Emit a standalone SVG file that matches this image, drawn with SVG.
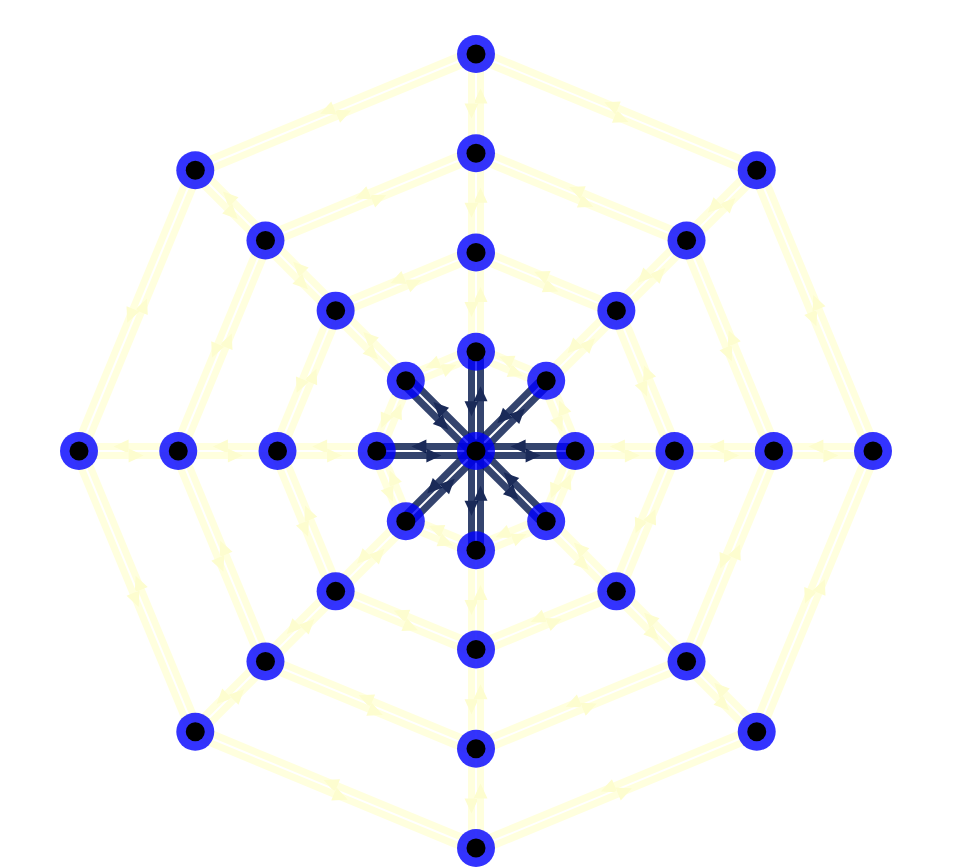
<svg xmlns="http://www.w3.org/2000/svg" width="958" height="868" viewBox="0 0 958 868">
<style>
.dk{fill:none;stroke:rgb(1,21,74);stroke-opacity:.8;stroke-width:7;marker-mid:url(#ad)}
.yl{fill:none;stroke:#ffffde;stroke-width:7;marker-mid:url(#ay)}
.o{fill:#0000ff;fill-opacity:.8}
.i{fill:#000}
</style>
<defs>
<marker id="ad" markerUnits="userSpaceOnUse" markerWidth="20" markerHeight="20" refX="0" refY="7" orient="auto" overflow="visible"><path d="M0,0L15,7L0,14z" fill="#1a2a58"/></marker>
<marker id="ay" markerUnits="userSpaceOnUse" markerWidth="20" markerHeight="20" refX="0" refY="7" orient="auto" overflow="visible"><path d="M0,0L15,7L0,14z" fill="#fdfdcf"/></marker>
</defs>
<rect width="958" height="868" fill="#fff"/>
<g id="connectors">
<!-- ring 1 octagon -->
<g transform="translate(476,351.75) rotate(22.5)"><path class="yl" d="M0,4.5H37.98H75.96"/><path class="yl" d="M75.96,-4.5H37.98H0"/></g>
<g transform="translate(546.18,380.82) rotate(67.5)"><path class="yl" d="M0,4.5H37.98H75.96"/><path class="yl" d="M75.96,-4.5H37.98H0"/></g>
<g transform="translate(575.25,451) rotate(112.5)"><path class="yl" d="M0,4.5H37.98H75.96"/><path class="yl" d="M75.96,-4.5H37.98H0"/></g>
<g transform="translate(546.18,521.18) rotate(157.5)"><path class="yl" d="M0,4.5H37.98H75.96"/><path class="yl" d="M75.96,-4.5H37.98H0"/></g>
<g transform="translate(476,550.25) rotate(202.5)"><path class="yl" d="M0,4.5H37.98H75.96"/><path class="yl" d="M75.96,-4.5H37.98H0"/></g>
<g transform="translate(405.82,521.18) rotate(247.5)"><path class="yl" d="M0,4.5H37.98H75.96"/><path class="yl" d="M75.96,-4.5H37.98H0"/></g>
<g transform="translate(376.75,451) rotate(292.5)"><path class="yl" d="M0,4.5H37.98H75.96"/><path class="yl" d="M75.96,-4.5H37.98H0"/></g>
<g transform="translate(405.82,380.82) rotate(337.5)"><path class="yl" d="M0,4.5H37.98H75.96"/><path class="yl" d="M75.96,-4.5H37.98H0"/></g>
<!-- ring 2 octagon -->
<g transform="translate(476,252.5) rotate(22.5)"><path class="yl" d="M0,4.5H75.96H151.93"/><path class="yl" d="M151.93,-4.5H75.96H0"/></g>
<g transform="translate(616.36,310.64) rotate(67.5)"><path class="yl" d="M0,4.5H75.96H151.93"/><path class="yl" d="M151.93,-4.5H75.96H0"/></g>
<g transform="translate(674.5,451) rotate(112.5)"><path class="yl" d="M0,4.5H75.96H151.93"/><path class="yl" d="M151.93,-4.5H75.96H0"/></g>
<g transform="translate(616.36,591.36) rotate(157.5)"><path class="yl" d="M0,4.5H75.96H151.93"/><path class="yl" d="M151.93,-4.5H75.96H0"/></g>
<g transform="translate(476,649.5) rotate(202.5)"><path class="yl" d="M0,4.5H75.96H151.93"/><path class="yl" d="M151.93,-4.5H75.96H0"/></g>
<g transform="translate(335.64,591.36) rotate(247.5)"><path class="yl" d="M0,4.5H75.96H151.93"/><path class="yl" d="M151.93,-4.5H75.96H0"/></g>
<g transform="translate(277.5,451) rotate(292.5)"><path class="yl" d="M0,4.5H75.96H151.93"/><path class="yl" d="M151.93,-4.5H75.96H0"/></g>
<g transform="translate(335.64,310.64) rotate(337.5)"><path class="yl" d="M0,4.5H75.96H151.93"/><path class="yl" d="M151.93,-4.5H75.96H0"/></g>
<!-- ring 3 octagon -->
<g transform="translate(476,153.25) rotate(22.5)"><path class="yl" d="M0,4.5H113.95H227.89"/><path class="yl" d="M227.89,-4.5H113.95H0"/></g>
<g transform="translate(686.54,240.46) rotate(67.5)"><path class="yl" d="M0,4.5H113.95H227.89"/><path class="yl" d="M227.89,-4.5H113.95H0"/></g>
<g transform="translate(773.75,451) rotate(112.5)"><path class="yl" d="M0,4.5H113.95H227.89"/><path class="yl" d="M227.89,-4.5H113.95H0"/></g>
<g transform="translate(686.54,661.54) rotate(157.5)"><path class="yl" d="M0,4.5H113.95H227.89"/><path class="yl" d="M227.89,-4.5H113.95H0"/></g>
<g transform="translate(476,748.75) rotate(202.5)"><path class="yl" d="M0,4.5H113.95H227.89"/><path class="yl" d="M227.89,-4.5H113.95H0"/></g>
<g transform="translate(265.46,661.54) rotate(247.5)"><path class="yl" d="M0,4.5H113.95H227.89"/><path class="yl" d="M227.89,-4.5H113.95H0"/></g>
<g transform="translate(178.25,451) rotate(292.5)"><path class="yl" d="M0,4.5H113.95H227.89"/><path class="yl" d="M227.89,-4.5H113.95H0"/></g>
<g transform="translate(265.46,240.46) rotate(337.5)"><path class="yl" d="M0,4.5H113.95H227.89"/><path class="yl" d="M227.89,-4.5H113.95H0"/></g>
<!-- ring 4 octagon -->
<g transform="translate(476,54) rotate(22.5)"><path class="yl" d="M0,4.5H151.93H303.85"/><path class="yl" d="M303.85,-4.5H151.93H0"/></g>
<g transform="translate(756.72,170.28) rotate(67.5)"><path class="yl" d="M0,4.5H151.93H303.85"/><path class="yl" d="M303.85,-4.5H151.93H0"/></g>
<g transform="translate(873,451) rotate(112.5)"><path class="yl" d="M0,4.5H151.93H303.85"/><path class="yl" d="M303.85,-4.5H151.93H0"/></g>
<g transform="translate(756.72,731.72) rotate(157.5)"><path class="yl" d="M0,4.5H151.93H303.85"/><path class="yl" d="M303.85,-4.5H151.93H0"/></g>
<g transform="translate(476,848) rotate(202.5)"><path class="yl" d="M0,4.5H151.93H303.85"/><path class="yl" d="M303.85,-4.5H151.93H0"/></g>
<g transform="translate(195.28,731.72) rotate(247.5)"><path class="yl" d="M0,4.5H151.93H303.85"/><path class="yl" d="M303.85,-4.5H151.93H0"/></g>
<g transform="translate(79,451) rotate(292.5)"><path class="yl" d="M0,4.5H151.93H303.85"/><path class="yl" d="M303.85,-4.5H151.93H0"/></g>
<g transform="translate(195.28,170.28) rotate(337.5)"><path class="yl" d="M0,4.5H151.93H303.85"/><path class="yl" d="M303.85,-4.5H151.93H0"/></g>
<!-- radial ring1-ring2 -->
<g transform="translate(476,351.75) rotate(-90)"><path class="yl" d="M0,4.5H49.63H99.25"/><path class="yl" d="M99.25,-4.5H49.63H0"/></g>
<g transform="translate(546.18,380.82) rotate(-45)"><path class="yl" d="M0,4.5H49.63H99.25"/><path class="yl" d="M99.25,-4.5H49.63H0"/></g>
<g transform="translate(575.25,451) rotate(0)"><path class="yl" d="M0,4.5H49.63H99.25"/><path class="yl" d="M99.25,-4.5H49.63H0"/></g>
<g transform="translate(546.18,521.18) rotate(45)"><path class="yl" d="M0,4.5H49.63H99.25"/><path class="yl" d="M99.25,-4.5H49.63H0"/></g>
<g transform="translate(476,550.25) rotate(90)"><path class="yl" d="M0,4.5H49.63H99.25"/><path class="yl" d="M99.25,-4.5H49.63H0"/></g>
<g transform="translate(405.82,521.18) rotate(135)"><path class="yl" d="M0,4.5H49.63H99.25"/><path class="yl" d="M99.25,-4.5H49.63H0"/></g>
<g transform="translate(376.75,451) rotate(180)"><path class="yl" d="M0,4.5H49.63H99.25"/><path class="yl" d="M99.25,-4.5H49.63H0"/></g>
<g transform="translate(405.82,380.82) rotate(225)"><path class="yl" d="M0,4.5H49.63H99.25"/><path class="yl" d="M99.25,-4.5H49.63H0"/></g>
<!-- radial ring2-ring3 -->
<g transform="translate(476,252.5) rotate(-90)"><path class="yl" d="M0,4.5H49.63H99.25"/><path class="yl" d="M99.25,-4.5H49.63H0"/></g>
<g transform="translate(616.36,310.64) rotate(-45)"><path class="yl" d="M0,4.5H49.63H99.25"/><path class="yl" d="M99.25,-4.5H49.63H0"/></g>
<g transform="translate(674.5,451) rotate(0)"><path class="yl" d="M0,4.5H49.63H99.25"/><path class="yl" d="M99.25,-4.5H49.63H0"/></g>
<g transform="translate(616.36,591.36) rotate(45)"><path class="yl" d="M0,4.5H49.63H99.25"/><path class="yl" d="M99.25,-4.5H49.63H0"/></g>
<g transform="translate(476,649.5) rotate(90)"><path class="yl" d="M0,4.5H49.63H99.25"/><path class="yl" d="M99.25,-4.5H49.63H0"/></g>
<g transform="translate(335.64,591.36) rotate(135)"><path class="yl" d="M0,4.5H49.63H99.25"/><path class="yl" d="M99.25,-4.5H49.63H0"/></g>
<g transform="translate(277.5,451) rotate(180)"><path class="yl" d="M0,4.5H49.63H99.25"/><path class="yl" d="M99.25,-4.5H49.63H0"/></g>
<g transform="translate(335.64,310.64) rotate(225)"><path class="yl" d="M0,4.5H49.63H99.25"/><path class="yl" d="M99.25,-4.5H49.63H0"/></g>
<!-- radial ring3-ring4 -->
<g transform="translate(476,153.25) rotate(-90)"><path class="yl" d="M0,4.5H49.63H99.25"/><path class="yl" d="M99.25,-4.5H49.63H0"/></g>
<g transform="translate(686.54,240.46) rotate(-45)"><path class="yl" d="M0,4.5H49.63H99.25"/><path class="yl" d="M99.25,-4.5H49.63H0"/></g>
<g transform="translate(773.75,451) rotate(0)"><path class="yl" d="M0,4.5H49.63H99.25"/><path class="yl" d="M99.25,-4.5H49.63H0"/></g>
<g transform="translate(686.54,661.54) rotate(45)"><path class="yl" d="M0,4.5H49.63H99.25"/><path class="yl" d="M99.25,-4.5H49.63H0"/></g>
<g transform="translate(476,748.75) rotate(90)"><path class="yl" d="M0,4.5H49.63H99.25"/><path class="yl" d="M99.25,-4.5H49.63H0"/></g>
<g transform="translate(265.46,661.54) rotate(135)"><path class="yl" d="M0,4.5H49.63H99.25"/><path class="yl" d="M99.25,-4.5H49.63H0"/></g>
<g transform="translate(178.25,451) rotate(180)"><path class="yl" d="M0,4.5H49.63H99.25"/><path class="yl" d="M99.25,-4.5H49.63H0"/></g>
<g transform="translate(265.46,240.46) rotate(225)"><path class="yl" d="M0,4.5H49.63H99.25"/><path class="yl" d="M99.25,-4.5H49.63H0"/></g>
<!-- center spokes -->
<g transform="translate(476,451) rotate(-90)"><path class="dk" d="M0,4.5H49.63H99.25"/><path class="dk" d="M99.25,-4.5H49.63H0"/></g>
<g transform="translate(476,451) rotate(-45)"><path class="dk" d="M0,4.5H49.63H99.25"/><path class="dk" d="M99.25,-4.5H49.63H0"/></g>
<g transform="translate(476,451) rotate(0)"><path class="dk" d="M0,4.5H49.63H99.25"/><path class="dk" d="M99.25,-4.5H49.63H0"/></g>
<g transform="translate(476,451) rotate(45)"><path class="dk" d="M0,4.5H49.63H99.25"/><path class="dk" d="M99.25,-4.5H49.63H0"/></g>
<g transform="translate(476,451) rotate(90)"><path class="dk" d="M0,4.5H49.63H99.25"/><path class="dk" d="M99.25,-4.5H49.63H0"/></g>
<g transform="translate(476,451) rotate(135)"><path class="dk" d="M0,4.5H49.63H99.25"/><path class="dk" d="M99.25,-4.5H49.63H0"/></g>
<g transform="translate(476,451) rotate(180)"><path class="dk" d="M0,4.5H49.63H99.25"/><path class="dk" d="M99.25,-4.5H49.63H0"/></g>
<g transform="translate(476,451) rotate(225)"><path class="dk" d="M0,4.5H49.63H99.25"/><path class="dk" d="M99.25,-4.5H49.63H0"/></g>
</g>
<g id="nodes">
<g id="n0"><circle class="o" cx="476" cy="451" r="19"/><circle class="i" cx="476" cy="451" r="9.5"/></g>
<g id="n1_0"><circle class="o" cx="476" cy="351.75" r="19"/><circle class="i" cx="476" cy="351.75" r="9.5"/></g>
<g id="n1_1"><circle class="o" cx="546.18" cy="380.82" r="19"/><circle class="i" cx="546.18" cy="380.82" r="9.5"/></g>
<g id="n1_2"><circle class="o" cx="575.25" cy="451" r="19"/><circle class="i" cx="575.25" cy="451" r="9.5"/></g>
<g id="n1_3"><circle class="o" cx="546.18" cy="521.18" r="19"/><circle class="i" cx="546.18" cy="521.18" r="9.5"/></g>
<g id="n1_4"><circle class="o" cx="476" cy="550.25" r="19"/><circle class="i" cx="476" cy="550.25" r="9.5"/></g>
<g id="n1_5"><circle class="o" cx="405.82" cy="521.18" r="19"/><circle class="i" cx="405.82" cy="521.18" r="9.5"/></g>
<g id="n1_6"><circle class="o" cx="376.75" cy="451" r="19"/><circle class="i" cx="376.75" cy="451" r="9.5"/></g>
<g id="n1_7"><circle class="o" cx="405.82" cy="380.82" r="19"/><circle class="i" cx="405.82" cy="380.82" r="9.5"/></g>
<g id="n2_0"><circle class="o" cx="476" cy="252.5" r="19"/><circle class="i" cx="476" cy="252.5" r="9.5"/></g>
<g id="n2_1"><circle class="o" cx="616.36" cy="310.64" r="19"/><circle class="i" cx="616.36" cy="310.64" r="9.5"/></g>
<g id="n2_2"><circle class="o" cx="674.5" cy="451" r="19"/><circle class="i" cx="674.5" cy="451" r="9.5"/></g>
<g id="n2_3"><circle class="o" cx="616.36" cy="591.36" r="19"/><circle class="i" cx="616.36" cy="591.36" r="9.5"/></g>
<g id="n2_4"><circle class="o" cx="476" cy="649.5" r="19"/><circle class="i" cx="476" cy="649.5" r="9.5"/></g>
<g id="n2_5"><circle class="o" cx="335.64" cy="591.36" r="19"/><circle class="i" cx="335.64" cy="591.36" r="9.5"/></g>
<g id="n2_6"><circle class="o" cx="277.5" cy="451" r="19"/><circle class="i" cx="277.5" cy="451" r="9.5"/></g>
<g id="n2_7"><circle class="o" cx="335.64" cy="310.64" r="19"/><circle class="i" cx="335.64" cy="310.64" r="9.5"/></g>
<g id="n3_0"><circle class="o" cx="476" cy="153.25" r="19"/><circle class="i" cx="476" cy="153.25" r="9.5"/></g>
<g id="n3_1"><circle class="o" cx="686.54" cy="240.46" r="19"/><circle class="i" cx="686.54" cy="240.46" r="9.5"/></g>
<g id="n3_2"><circle class="o" cx="773.75" cy="451" r="19"/><circle class="i" cx="773.75" cy="451" r="9.5"/></g>
<g id="n3_3"><circle class="o" cx="686.54" cy="661.54" r="19"/><circle class="i" cx="686.54" cy="661.54" r="9.5"/></g>
<g id="n3_4"><circle class="o" cx="476" cy="748.75" r="19"/><circle class="i" cx="476" cy="748.75" r="9.5"/></g>
<g id="n3_5"><circle class="o" cx="265.46" cy="661.54" r="19"/><circle class="i" cx="265.46" cy="661.54" r="9.5"/></g>
<g id="n3_6"><circle class="o" cx="178.25" cy="451" r="19"/><circle class="i" cx="178.25" cy="451" r="9.5"/></g>
<g id="n3_7"><circle class="o" cx="265.46" cy="240.46" r="19"/><circle class="i" cx="265.46" cy="240.46" r="9.5"/></g>
<g id="n4_0"><circle class="o" cx="476" cy="54" r="19"/><circle class="i" cx="476" cy="54" r="9.5"/></g>
<g id="n4_1"><circle class="o" cx="756.72" cy="170.28" r="19"/><circle class="i" cx="756.72" cy="170.28" r="9.5"/></g>
<g id="n4_2"><circle class="o" cx="873" cy="451" r="19"/><circle class="i" cx="873" cy="451" r="9.5"/></g>
<g id="n4_3"><circle class="o" cx="756.72" cy="731.72" r="19"/><circle class="i" cx="756.72" cy="731.72" r="9.5"/></g>
<g id="n4_4"><circle class="o" cx="476" cy="848" r="19"/><circle class="i" cx="476" cy="848" r="9.5"/></g>
<g id="n4_5"><circle class="o" cx="195.28" cy="731.72" r="19"/><circle class="i" cx="195.28" cy="731.72" r="9.5"/></g>
<g id="n4_6"><circle class="o" cx="79" cy="451" r="19"/><circle class="i" cx="79" cy="451" r="9.5"/></g>
<g id="n4_7"><circle class="o" cx="195.28" cy="170.28" r="19"/><circle class="i" cx="195.28" cy="170.28" r="9.5"/></g>
</g>
</svg>
